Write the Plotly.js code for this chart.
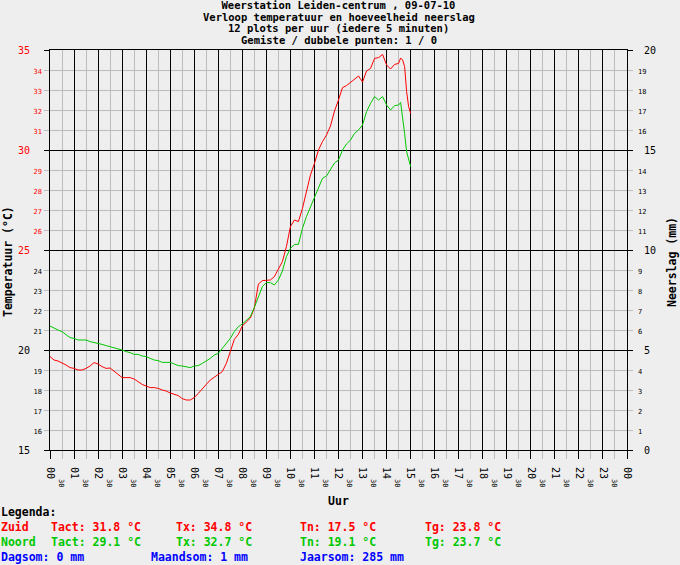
<!DOCTYPE html>
<html>
<head>
<meta charset="utf-8">
<script src="https://cdn.plot.ly/plotly-3.0.1.min.js"></script>
<style>
  html, body { margin: 0; padding: 0; background: #eeeeee; }
  #plot { width: 680px; height: 565px; }
</style>
</head>
<body>
<div id="plot"></div>
<script>
// readings every 10 minutes (5 minutes near the end), 09-07-10
const times = [
  '00:00','00:10','00:20','00:30','00:40','00:50',
  '01:00','01:10','01:20','01:30','01:40','01:50',
  '02:00','02:10','02:20','02:30','02:40','02:50',
  '03:00','03:10','03:20','03:30','03:40','03:50',
  '04:00','04:10','04:20','04:30','04:40','04:50',
  '05:00','05:10','05:20','05:30','05:40','05:50',
  '06:00','06:10','06:20','06:30','06:40','06:50',
  '07:00','07:10','07:20','07:30','07:40','07:50',
  '08:00','08:10','08:20','08:30','08:40','08:50',
  '09:00','09:10','09:20','09:30','09:40','09:50',
  '10:00','10:10','10:20','10:30','10:40','10:50',
  '11:00','11:10','11:20','11:30','11:40','11:50',
  '12:00','12:10','12:20','12:30','12:40','12:50',
  '13:00','13:10','13:20','13:30','13:40','13:50',
  '14:00','14:10','14:20','14:30','14:35','14:40',
  '14:45','14:50','14:55','15:00'
];

const zuid = [
  19.67, 19.50, 19.45, 19.37, 19.25, 19.12,
  19.08, 19.00, 19.00, 19.08, 19.20, 19.37,
  19.30, 19.17, 19.08, 19.10, 18.95, 18.78,
  18.62, 18.62, 18.62, 18.55, 18.42, 18.28,
  18.20, 18.12, 18.12, 18.08, 18.00, 17.95,
  17.85, 17.78, 17.72, 17.57, 17.50, 17.50,
  17.62, 17.83, 18.08, 18.28, 18.50, 18.62,
  18.78, 18.92, 19.33, 19.92, 20.53, 20.78,
  21.20, 21.40, 21.60, 22.10, 23.30, 23.47,
  23.50, 23.50, 23.67, 24.08, 24.42, 25.17,
  26.17, 26.50, 26.42, 27.08, 28.00, 28.75,
  29.33, 30.00, 30.42, 30.75, 31.20, 31.95,
  32.50, 33.12, 33.22, 33.38, 33.58, 33.70,
  33.40, 33.95, 34.08, 34.58, 34.62, 34.78,
  34.25, 34.05, 34.28, 34.33, 34.60, 34.50,
  34.17, 32.92, 32.17, 31.83
];

const noord = [
  21.20, 21.08, 21.00, 20.92, 20.78, 20.62,
  20.58, 20.50, 20.50, 20.50, 20.42, 20.38,
  20.33, 20.28, 20.22, 20.17, 20.12, 20.08,
  20.00, 19.92, 19.87, 19.78, 19.78, 19.70,
  19.67, 19.58, 19.50, 19.47, 19.38, 19.38,
  19.38, 19.30, 19.22, 19.20, 19.17, 19.12,
  19.20, 19.22, 19.33, 19.45, 19.58, 19.75,
  19.83, 20.08, 20.33, 20.58, 20.92, 21.17,
  21.30, 21.47, 21.67, 22.13, 22.67, 23.17,
  23.37, 23.37, 23.25, 23.50, 23.95, 24.67,
  25.08, 25.28, 25.28, 26.08, 26.67, 27.17,
  27.58, 28.08, 28.58, 28.70, 29.05, 29.35,
  29.50, 30.00, 30.30, 30.50, 30.83, 31.00,
  31.25, 31.92, 32.33, 32.67, 32.50, 32.67,
  32.25, 32.00, 32.22, 32.25, 32.38, 31.67,
  30.83, 29.92, 29.50, 29.17
];

// neerslag per uur (mm), dagsom 0 mm
const rainHours = [0, 1, 2, 3, 4, 5, 6, 7, 8, 9, 10, 11, 12, 13, 14];
const rain = [0, 0, 0, 0, 0, 0, 0, 0, 0, 0, 0, 0, 0, 0, 0];

// axis labels
const hourVals = [0,1,2,3,4,5,6,7,8,9,10,11,12,13,14,15,16,17,18,19,20,21,22,23,24];
const hourText = ['00','01','02','03','04','05','06','07','08','09','10','11','12',
                  '13','14','15','16','17','18','19','20','21','22','23','00'];
const halfVals = [0.5,1.5,2.5,3.5,4.5,5.5,6.5,7.5,8.5,9.5,10.5,11.5,
                  12.5,13.5,14.5,15.5,16.5,17.5,18.5,19.5,20.5,21.5,22.5,23.5];
const tempVals = [15,16,17,18,19,20,21,22,23,24,25,26,27,28,29,30,31,32,33,34,35];
const rainVals = [0,1,2,3,4,5,6,7,8,9,10,11,12,13,14,15,16,17,18,19,20];

// legend figures
const statNames = ['Tact', 'Tx', 'Tn', 'Tg'];
const zuidStats = [31.8, 34.8, 17.5, 23.8];
const noordStats = [29.1, 32.7, 19.1, 23.7];
const sums = [['Dagsom', 0], ['Maandsom', 1], ['Jaarsom', 285]];

const FONT = 'DejaVu Sans Mono, monospace';
const RED = '#ff0000';
const GREEN = '#00c800';
const BLUE = '#0000ff';
const MINOR = '#bcbcbc';
const CLEAR = 'rgba(0,0,0,0)';
const NB = '\u00a0';

// plot box in pixels
const ML = 50, MR = 53, MT = 50, MB = 115;
const PW = 680 - ML - MR, PH = 565 - MT - MB;
const px = X => (X - ML) / PW;
const py = Y => (MT + PH - Y) / PH;

const toHours = t => Number(t.slice(0, 2)) + Number(t.slice(3)) / 60;
const xs = times.map(toHours);

// tick labels: every fifth one large, the others small; 25 and up in red
const small = s => `<span style="font-size:7px">${s}</span>`;
const tempLabel = v => {
  const s = v % 5 === 0 ? `${v}${NB}${NB}` : small(v);
  return v >= 25 ? `<span style="color:${RED}">${s}</span>` : s;
};
const rainLabel = v => v % 5 === 0 ? `${NB}${v}` : small(v);

const xTickVals = hourVals.concat(halfVals).sort((a, b) => a - b);
const xTickText = xTickVals.map(v =>
  Number.isInteger(v) ? NB + hourText[v] : NB + NB + NB + small('30'));

const traces = [
  {x: rainHours, y: rain, name: 'Neerslag', type: 'bar', xaxis: 'x', yaxis: 'y2',
   marker: {color: BLUE, line: {width: 0}}, hoverinfo: 'skip'},
  {x: xs, y: zuid, name: 'Zuid', mode: 'lines', type: 'scatter', xaxis: 'x', yaxis: 'y',
   line: {color: RED, width: 1}, hoverinfo: 'skip'},
  {x: xs, y: noord, name: 'Noord', mode: 'lines', type: 'scatter', xaxis: 'x2', yaxis: 'y3',
   line: {color: GREEN, width: 1}, hoverinfo: 'skip'},
];

const ann = (text, X, Y, color, size) => ({
  text: text, xref: 'paper', yref: 'paper', x: px(X), y: py(Y),
  xanchor: 'left', yanchor: 'middle', showarrow: false, borderpad: 0,
  font: {family: FONT, size: size || 11.5, color: color || '#000'},
});

const titleLines = [
  ['<b>Verloop temperatuur en hoeveelheid neerslag</b>', 17],
  ['<b>12 plots per uur (iedere 5 minuten)</b>', 28.3],
  ['<b>Gemiste / dubbele punten: 1 / 0</b>', 39.6],
];

const annotations = titleLines.map(([t, Y]) => ({
  text: t, xref: 'paper', yref: 'paper', x: 0.5, y: py(Y),
  xanchor: 'center', yanchor: 'middle', showarrow: false, borderpad: 0,
  font: {family: FONT, size: 10.5, color: '#000'},
}));

// side titles sit a little below the middle of the plot, as in the original
const sideTitle = (text, X) => ({
  text: text, xref: 'paper', yref: 'paper', x: px(X), y: py(262),
  xanchor: 'center', yanchor: 'middle', textangle: -90, showarrow: false, borderpad: 0,
  font: {family: FONT, size: 11.5, color: '#000'},
});
annotations.push(sideTitle('<b>Temperatuur (°C)</b>', 8));
annotations.push(sideTitle('<b>Neerslag (mm)</b>', 672));

annotations.push(ann('<b>Legenda:</b>', 0, 512));
annotations.push(ann('<b>Zuid</b>', 0, 527, RED));
annotations.push(ann('<b>Noord</b>', 0, 542, GREEN));
const statX = [50, 175, 299, 424];
statNames.forEach((n, i) => {
  annotations.push(ann(`<b>${n}: ${zuidStats[i].toFixed(1)} °C</b>`, statX[i], 527, RED));
  annotations.push(ann(`<b>${n}: ${noordStats[i].toFixed(1)} °C</b>`, statX[i], 542, GREEN));
});
const sumX = [0, 150, 299];
sums.forEach(([n, v], i) => {
  annotations.push(ann(`<b>${n}: ${v} mm</b>`, sumX[i], 557, BLUE));
});

const titleFont = {family: FONT, size: 11.5, color: '#000'};

const layout = {
  width: 680, height: 565,
  margin: {l: ML, r: MR, t: MT, b: MB, pad: 0},
  paper_bgcolor: '#eeeeee', plot_bgcolor: '#eeeeee',
  showlegend: false,
  dragmode: false,
  title: {
    text: '<b>Weerstation Leiden-centrum , 09-07-10</b>',
    font: {family: FONT, size: 10.5, color: '#000'},
    x: 0.5, xref: 'paper', y: 1 - 5.7 / 565, yref: 'container', yanchor: 'middle',
  },
  xaxis: {
    range: [0, 24], tickmode: 'array', tickvals: xTickVals, ticktext: xTickText,
    tickangle: 90, ticks: 'outside', ticklen: 8, tickcolor: MINOR,
    tickfont: {family: FONT, size: 10, color: '#000'},
    showgrid: true, gridcolor: MINOR, gridwidth: 1,
    zeroline: false, showline: true, linecolor: '#000', linewidth: 1, mirror: true,
    fixedrange: true,
    title: {text: '<b>Uur</b>', font: titleFont, standoff: 10},
  },
  xaxis2: {
    overlaying: 'x', anchor: 'y', side: 'bottom', range: [0, 24],
    tickmode: 'linear', tick0: 0, dtick: 1, showticklabels: false,
    ticks: 'outside', ticklen: 8, tickcolor: '#000',
    showgrid: true, gridcolor: '#000', gridwidth: 1,
    zeroline: false, showline: false, fixedrange: true,
  },
  yaxis: {
    range: [15, 35], tickmode: 'array', tickvals: tempVals, ticktext: tempVals.map(tempLabel),
    ticks: 'outside', ticklen: 5, tickcolor: MINOR,
    tickfont: {family: FONT, size: 10, color: '#000'},
    showgrid: true, gridcolor: MINOR, gridwidth: 1,
    zeroline: false, showline: true, linecolor: '#000', linewidth: 1, mirror: 'ticks',
    fixedrange: true,
  },
  yaxis3: {
    overlaying: 'y', anchor: 'x', side: 'left', range: [15, 35],
    tickmode: 'linear', tick0: 15, dtick: 5, showticklabels: false,
    ticks: 'outside', ticklen: 5, tickcolor: '#000', mirror: 'ticks',
    showgrid: true, gridcolor: '#000', gridwidth: 1,
    zeroline: false, showline: false, fixedrange: true,
  },
  yaxis2: {
    overlaying: 'y', anchor: 'x', side: 'right', range: [0, 20],
    tickmode: 'array', tickvals: rainVals, ticktext: rainVals.map(rainLabel),
    ticks: 'outside', ticklen: 8, tickcolor: CLEAR,
    tickfont: {family: FONT, size: 10, color: '#000'},
    showgrid: false, zeroline: false, showline: false, fixedrange: true,
  },
  annotations: annotations,
};

const config = {displayModeBar: false, scrollZoom: false, staticPlot: true};

Plotly.newPlot('plot', traces, layout, config);
</script>
</body>
</html>
